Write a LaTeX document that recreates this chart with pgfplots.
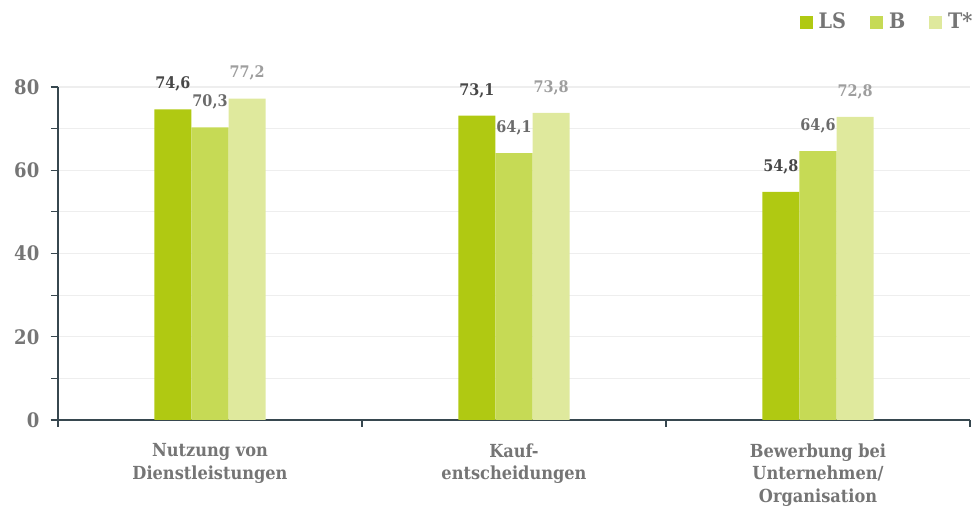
\documentclass[border=0pt]{standalone}
\usepackage{pgfplots}
\pgfplotsset{compat=1.18}
\usepackage{fontspec}
\setmainfont{DejaVu Serif Condensed}
\definecolor{cLS}{HTML}{B0C912}
\definecolor{cB}{HTML}{C6DA55}
\definecolor{cT}{HTML}{DFE99D}
\definecolor{axc}{HTML}{37474F}
\definecolor{txt}{HTML}{757575}
\definecolor{grd}{HTML}{EEEEEE}
\definecolor{vLS}{HTML}{474747}
\definecolor{vB}{HTML}{6B6B6B}
\definecolor{vT}{HTML}{9E9E9E}
\begin{document}
\begin{tikzpicture}
\path[use as bounding box] (-43.5pt,-64.5pt) rectangle (685.5pt,315pt);
\begin{axis}[
  at={(0,0)}, anchor=south west,
  scale only axis, width=684pt, height=249.75pt,
  xmin=-0.5, xmax=2.5, ymin=0, ymax=80,
  ybar=0pt, bar width=0.122,
  axis x line*=bottom, axis y line*=left,
  axis line style={axc, line width=0.9pt},
  ytick={0,20,40,60,80}, minor ytick={10,30,50,70},
  ymajorgrids, yminorgrids,
  major grid style={grd, line width=0.8pt},
  minor grid style={grd, line width=0.8pt},
  tick align=outside,
  major tick length=5.5pt, minor tick length=5pt,
  y tick style={axc, line width=0.8pt},
  xtick={0,1,2},
  xticklabels={{Nutzung von\\Dienstleistungen},{Kauf-\\entscheidungen},{Bewerbung bei\\Unternehmen/\\Organisation}},
  major x tick style={draw=none},
  minor xtick={-0.5,0.5,1.5,2.5},
  minor x tick style={axc, line width=0.8pt},
  xticklabel style={align=center, font=\bfseries\fontsize{13.5}{17.2}\selectfont, text=txt, yshift=-8.5pt},
  yticklabel style={font=\bfseries\fontsize{15}{17}\selectfont, text=txt, xshift=-5pt},
  /pgf/number format/assume math mode=true,
  nodes near coords={\pgfmathprintnumber[assume math mode=true,use comma,fixed,fixed zerofill,precision=1]{\pgfplotspointmeta}},
  nodes near coords style={font=\bfseries\fontsize{12}{14}\selectfont, yshift=10pt},
  legend columns=3,
  legend style={at={(axis description cs:1.006,1.195)}, anchor=east, draw=none, fill=none,
    font=\bfseries\fontsize{16}{18}\selectfont, text=txt, inner sep=0pt,
    /tikz/every odd column/.append style={column sep=2.5pt},
    /tikz/every even column/.append style={column sep=16pt}},
  sqleg/.style={legend image code/.code={\fill[##1, draw=none] (0pt,-4.9pt) rectangle (9.75pt,4.9pt);}},
]
\addplot[fill=cLS, draw=none, sqleg, every node near coord/.append style={text=vLS}] coordinates {(0,74.6) (1,73.1) (2,54.8)};
\addplot[fill=cB, draw=none, sqleg, every node near coord/.append style={text=vB}] coordinates {(0,70.3) (1,64.1) (2,64.6)};
\addplot[fill=cT, draw=none, sqleg, every node near coord/.append style={text=vT}] coordinates {(0,77.2) (1,73.8) (2,72.8)};
\legend{LS,B,T*}
\end{axis}
\end{tikzpicture}
\end{document}
